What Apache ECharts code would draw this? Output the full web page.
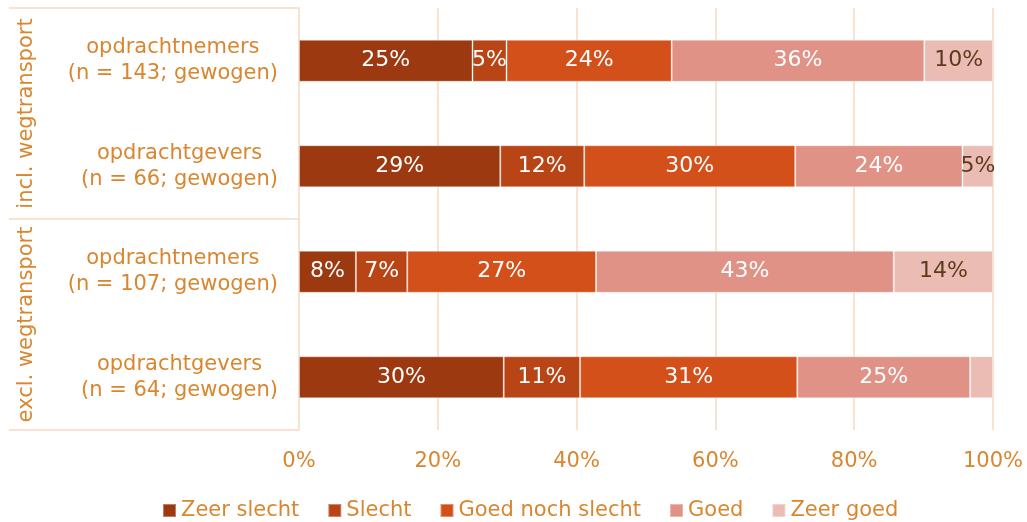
<!DOCTYPE html>
<html>
<head>
<meta charset="utf-8">
<script src="https://cdn.jsdelivr.net/npm/echarts@6/dist/echarts.min.js"></script>
<style>
  html, body { margin: 0; padding: 0; background: #fff; }
  #chart { width: 1027px; height: 522px; }
</style>
</head>
<body>
<div id="chart"></div>
<script>
  // categorieen (van boven naar beneden)
  var categories = [
    'opdrachtnemers\n(n = 143; gewogen)',
    'opdrachtgevers\n(n = 66; gewogen)',
    'opdrachtnemers\n(n = 107; gewogen)',
    'opdrachtgevers\n(n = 64; gewogen)'
  ]
  var groups = ['incl. wegtransport', 'excl. wegtransport']
  var seriesNames = ['Zeer slecht', 'Slecht', 'Goed noch slecht', 'Goed', 'Zeer goed']

  // percentages per antwoord
  var zeerSlecht = [25, 29, 8.2, 29.5]
  var slecht = [4.9, 12.1, 7.4, 11]
  var goedNochSlecht = [23.8, 30.4, 27.2, 31.3]
  var goed = [36.4, 24.1, 42.9, 24.9]
  var zeerGoed = [9.9, 4.6, 14.3, 3.3]

  var colors = ['#9c3910', '#b94516', '#d4501b', '#df9285', '#ebbcb4']
  var labelColors = ['#ffffff', '#ffffff', '#ffffff', '#ffffff', '#5c3a1c']
  var orange = '#d9862f'
  var beige = '#f8e2d1'

  var values = [zeerSlecht, slecht, goedNochSlecht, goed, zeerGoed]

  var chart = echarts.init(document.getElementById('chart'))

  var series = seriesNames.map(function (name, i) {
    return {
      name: name,
      type: 'bar',
      stack: 'totaal',
      barWidth: 42,
      yAxisIndex: 0,
      itemStyle: {
        color: colors[i],
        borderColor: 'rgba(255,255,255,0.35)',
        borderWidth: 1
      },
      label: {
        show: true,
        position: 'inside',
        color: labelColors[i],
        fontSize: 22,
        fontFamily: 'DejaVu Sans',
        formatter: function (p) {
          return p.value < 4 ? '' : Math.round(p.value) + '%'
        }
      },
      data: values[i]
    }
  })

  chart.setOption({
    animation: false,
    textStyle: { fontFamily: 'DejaVu Sans' },
    grid: {
      left: 299,
      right: 34,
      top: 8,
      bottom: 92
    },
    legend: {
      top: 495,
      left: 157,
      icon: 'rect',
      itemWidth: 13,
      itemHeight: 13,
      itemGap: 28,
      textStyle: { color: orange, fontSize: 21, fontFamily: 'DejaVu Sans' },
      data: seriesNames
    },
    xAxis: {
      type: 'value',
      min: 0,
      max: 100,
      interval: 20,
      axisLine: { show: false },
      axisTick: { show: false },
      axisLabel: {
        color: orange,
        fontSize: 21,
        margin: 21,
        formatter: '{value}%'
      },
      splitLine: { lineStyle: { color: beige, width: 2 } }
    },
    yAxis: [{
      type: 'category',
      inverse: true,
      data: categories,
      axisLine: { show: true, lineStyle: { color: beige, width: 2 } },
      axisTick: { show: false },
      axisLabel: {
        margin: 21,
        align: 'right',
        color: orange,
        fontSize: 21,
        lineHeight: 26,
        formatter: function (v) {
          var parts = v.split('\n')
          return '{a|' + parts[0] + '}\n{a|' + parts[1] + '}'
        },
        rich: {
          a: { align: 'center', color: orange, fontSize: 21, lineHeight: 26 }
        }
      }
    }, {
      type: 'category',
      inverse: true,
      position: 'left',
      data: groups,
      axisLine: { show: false },
      axisTick: {
        show: true,
        interval: 0,
        length: 290,
        lineStyle: { color: beige, width: 2 }
      },
      axisLabel: {
        rotate: 90,
        margin: 262,
        color: orange,
        fontSize: 21,
        interval: 0
      }
    }],
    series: series
  })
</script>
</body>
</html>
